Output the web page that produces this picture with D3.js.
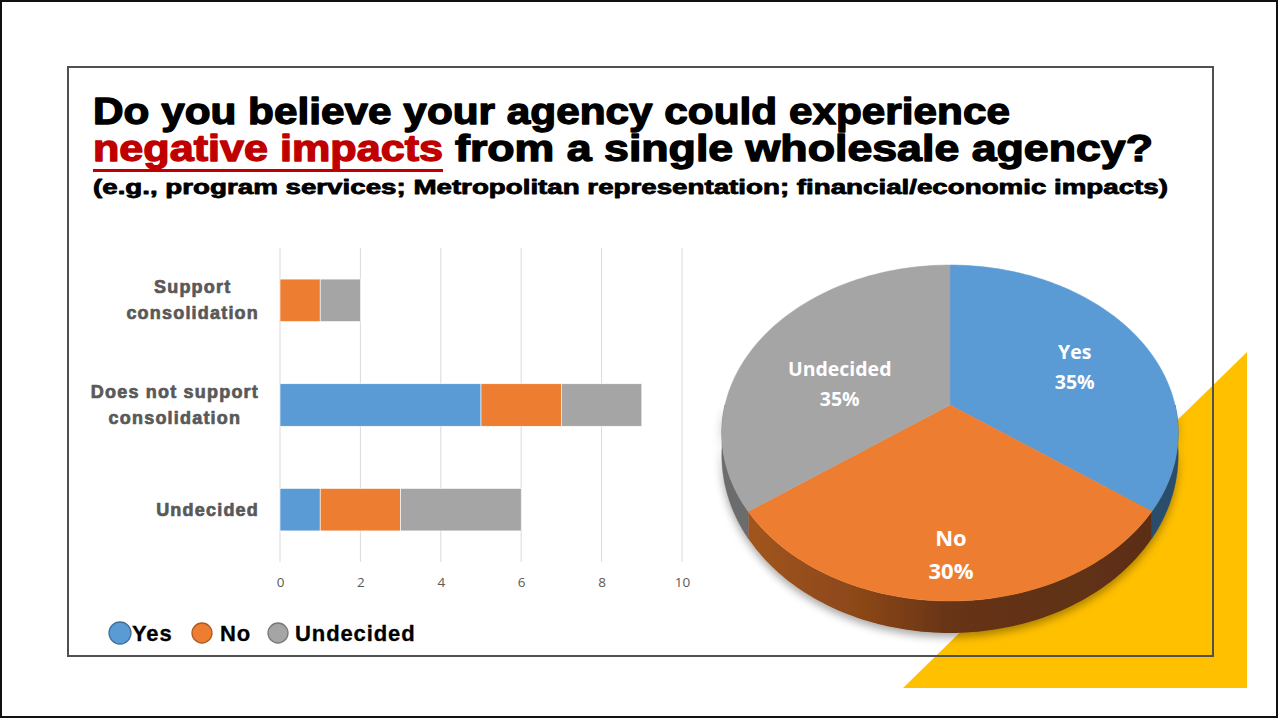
<!DOCTYPE html>
<html><head><meta charset="utf-8">
<script src="https://cdn.jsdelivr.net/npm/d3@7"></script>
<style>html,body{margin:0;padding:0;background:#fff;overflow:hidden}</style>
</head><body>
<svg id="c" width="1279" height="719"></svg>
<script>
// ---------- data ----------
const titleLine1 = "Do you believe your agency could experience";
const titleEmph = "negative impacts";
const titleLine2Rest = "from a single wholesale agency?";
const subtitle = "(e.g., program services; Metropolitan representation; financial/economic impacts)";

const categories = ["Support consolidation", "Does not support consolidation", "Undecided"];
const categoryLines = [["Support", "consolidation"], ["Does not support", "consolidation"], ["Undecided"]];
const seriesNames = ["Yes", "No", "Undecided"];
const yesValues = [0, 5, 1];
const noValues = [1, 2, 2];
const undecidedValues = [1, 2, 3];
const xTicks = [0, 2, 4, 6, 8, 10];

const pieLabels = ["Yes", "No", "Undecided"];
const piePercents = [35, 30, 35];

const colors = ["#5B9BD5", "#ED7D31", "#A5A5A5"];
const legendStroke = ["#41719C", "#AE5A21", "#787878"];

// ---------- setup ----------
const svg = d3.select("#c");
const defs = svg.append("defs");

// outer border
svg.append("rect").attr("x", 1).attr("y", 1).attr("width", 1276).attr("height", 716)
  .attr("fill", "#fff").attr("stroke", "#111").attr("stroke-width", 2);

// frame fill
svg.append("rect").attr("x", 68).attr("y", 67).attr("width", 1145).attr("height", 589).attr("fill", "#fff");
// yellow triangle accent
svg.append("path").attr("d", d3.line()([[903, 688], [1247, 352], [1247, 688]]) + "Z").attr("fill", "#FFC000");
// frame stroke
svg.append("rect").attr("x", 68).attr("y", 67).attr("width", 1145).attr("height", 589)
  .attr("fill", "none").attr("stroke", "#505050").attr("stroke-width", 2);

// ---------- title ----------
const tfont = "'Liberation Sans', Arial, sans-serif";
function ttext(str, x, y, size, len, color, sw) {
  return svg.append("text").attr("x", x).attr("y", y).text(str)
    .attr("font-family", tfont).attr("font-weight", 700).attr("font-size", size)
    .attr("fill", color).attr("stroke", color).attr("stroke-width", sw)
    .attr("stroke-linejoin", "round")
    .attr("textLength", len).attr("lengthAdjust", "spacingAndGlyphs");
}
ttext(titleLine1, 93, 124, 36, 917, "#000", 1.3);
ttext(titleEmph, 93, 161, 36, 350, "#C00000", 1.3);
ttext(titleLine2Rest, 455, 161, 36, 698, "#000", 1.3);
svg.append("rect").attr("x", 93).attr("y", 169).attr("width", 350).attr("height", 3).attr("fill", "#C00000");
ttext(subtitle, 93, 194, 20, 1075, "#000", 0.8);

// ---------- bar chart ----------
const x = d3.scaleLinear().domain([0, 10]).range([280, 682]);
const y = d3.scaleBand().domain(categories).range([248, 562]).paddingInner(0.594).paddingOuter(0.297);

const g = svg.append("g");
g.selectAll("line.grid").data(xTicks).join("line")
  .attr("x1", d => x(d)).attr("x2", d => x(d)).attr("y1", 248).attr("y2", 562)
  .attr("stroke", "#D9D9D9").attr("stroke-width", 1);

const table = categories.map((c, i) => ({cat: c, Yes: yesValues[i], No: noValues[i], Undecided: undecidedValues[i]}));
const stack = d3.stack().keys(seriesNames)(table);
stack.forEach((layer, li) => {
  g.selectAll(null).data(layer).join("rect")
    .attr("x", d => x(d[0])).attr("width", d => x(d[1]) - x(d[0]))
    .attr("y", d => y(d.data.cat)).attr("height", y.bandwidth())
    .attr("fill", colors[li]).attr("stroke", "#fff").attr("stroke-width", 0.6);
});

const xAxis = d3.axisBottom(x).tickValues(xTicks).tickSize(0).tickPadding(0);
const ax = g.append("g").attr("transform", "translate(0,577)").call(xAxis);
ax.select(".domain").remove();
ax.selectAll("text").attr("font-family", "'Open Sans', sans-serif").attr("font-size", 13.5)
  .attr("fill", "#595959");

// category labels (centered block, right aligned at 259)
categories.forEach((c, i) => {
  const lines = categoryLines[i];
  const cy = y(c) + y.bandwidth() / 2;
  const lh = 26;
  const grp = g.append("g");
  const texts = lines.map((ln, k) => grp.append("text").text(ln)
    .attr("y", cy + (k - (lines.length - 1) / 2) * lh + 6)
    .attr("font-family", tfont).attr("font-weight", 700).attr("font-size", 18)
    .attr("letter-spacing", 1.2)
    .attr("fill", "#595959").attr("stroke", "#595959").attr("stroke-width", 0.7)
    .attr("stroke-linejoin", "round")
    .attr("text-anchor", "middle"));
  const widths = texts.map(t => t.node().getComputedTextLength());
  const maxW = d3.max(widths);
  texts.forEach(t => t.attr("x", 259 - maxW / 2));
});

// legend
const legend = svg.append("g");
const legX = [120, 202, 278];
const legTextX = [132, 220, 295];
seriesNames.forEach((s, i) => {
  legend.append("circle").attr("cx", legX[i]).attr("cy", 633).attr("r", i === 0 ? 11 : 10)
    .attr("fill", colors[i]).attr("stroke", legendStroke[i]).attr("stroke-width", 1.3);
  legend.append("text").attr("x", legTextX[i]).attr("y", 641).text(s)
    .attr("font-family", tfont).attr("font-weight", 700).attr("font-size", 22)
    .attr("letter-spacing", 0.9).attr("fill", "#000").attr("stroke", "#000").attr("stroke-width", 0.3);
});

// ---------- 3D pie ----------
const P = {cx: 950, a: 405, b: 95.8, c: -0.1667, R: 225};
function proj(r, ang, dz) {
  const u = r * Math.sin(ang), v = -r * Math.cos(ang);
  const den = 1 + P.c * v;
  return [P.cx + P.R * u / den, (P.a + P.b * v) / den + (dz || 0)];
}
function depth(ang) { return 20 + 12 * (-Math.cos(ang)); }

const arcs = d3.pie().sort(null).value(d => d)(piePercents);

const grad = defs.append("linearGradient").attr("id", "gOr").attr("gradientUnits", "userSpaceOnUse")
  .attr("x1", 740).attr("x2", 1160).attr("y1", 0).attr("y2", 0);
[[0, "#a3561f"], [0.3, "#8a4619"], [0.5, "#673414"], [1, "#5c2e12"]].forEach(s =>
  grad.append("stop").attr("offset", s[0]).attr("stop-color", s[1]));
const wallFill = ["#2b4d6c", "url(#gOr)", "#6c6c6c"];

const flt = defs.append("filter").attr("id", "sh").attr("x", "-20%").attr("y", "-20%").attr("width", "140%").attr("height", "160%");
flt.append("feDropShadow").attr("dx", 0).attr("dy", 4).attr("stdDeviation", 4).attr("flood-color", "#000").attr("flood-opacity", 0.35);

const pieG = svg.append("g");
const wallG = pieG.append("g").attr("filter", "url(#sh)");
const N = 90;
arcs.forEach((a, i) => {
  const s = Math.max(a.startAngle, Math.PI / 2), e = Math.min(a.endAngle, 3 * Math.PI / 2);
  if (e <= s) return;
  const top = d3.range(N + 1).map(k => proj(1, s + (e - s) * k / N));
  const bot = d3.range(N + 1).map(k => { const an = e - (e - s) * k / N; return proj(1, an, depth(an)); });
  wallG.append("path").attr("d", d3.line()(top.concat(bot)) + "Z").attr("fill", wallFill[i])
    .attr("stroke", wallFill[i] === "url(#gOr)" ? "none" : wallFill[i]).attr("stroke-width", 0.5);
});
arcs.forEach((a, i) => {
  const pts = [proj(0, 0)].concat(d3.range(N + 1).map(k => proj(1, a.startAngle + (a.endAngle - a.startAngle) * k / N)));
  pieG.append("path").attr("d", d3.line()(pts) + "Z").attr("fill", colors[i])
    .attr("stroke", colors[i]).attr("stroke-width", 0.5);
});

// labels
const labelR = [0.62, 0.8, 0.52];
const labelDx = [6, 1, -10];
const labelDy = [6, -1, 16];
const labelSize = [19.5, 22, 19.5];
arcs.forEach((a, i) => {
  const mid = (a.startAngle + a.endAngle) / 2;
  const p = proj(labelR[i], mid);
  const fs = labelSize[i];
  const t = pieG.append("text").attr("text-anchor", "middle")
    .attr("font-family", "'Open Sans', sans-serif").attr("font-weight", 700)
    .attr("font-size", fs).attr("fill", "#fff");
  const px = p[0] + labelDx[i];
  t.append("tspan").attr("x", px).attr("y", p[1] + labelDy[i] - fs * 0.75 + fs * 0.36).text(pieLabels[i]);
  t.append("tspan").attr("x", px).attr("y", p[1] + labelDy[i] + fs * 0.75 + fs * 0.36).text(piePercents[i] + "%");
});
</script>
</body></html>
